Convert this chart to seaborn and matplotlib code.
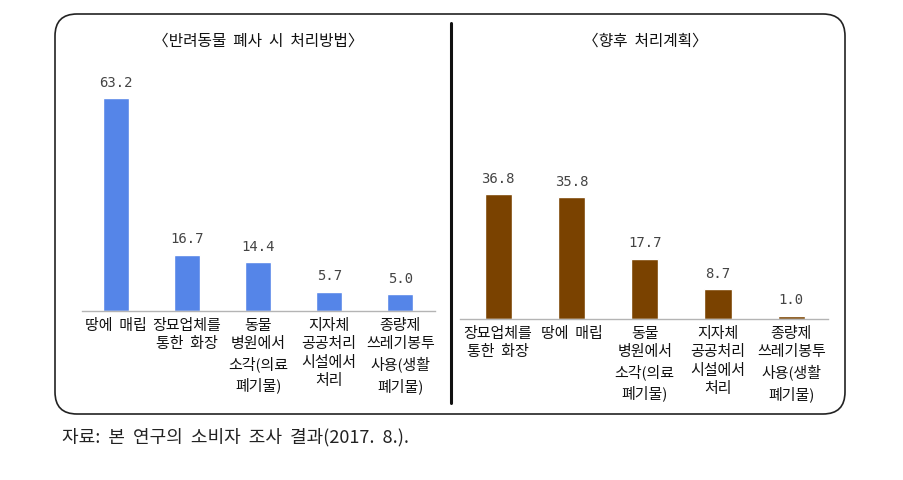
import matplotlib
matplotlib.use("Agg")
import matplotlib.pyplot as plt
from matplotlib.patches import FancyBboxPatch
from matplotlib.lines import Line2D
from matplotlib.transforms import IdentityTransform
import seaborn as sns

# 데이터
left_title = '〈반려동물  폐사  시  처리방법〉'
left_cats = ['땅에  매립', '장묘업체를\n통한  화장', '동물\n병원에서\n소각(의료\n폐기물)',
             '지자체\n공공처리\n시설에서\n처리', '종량제\n쓰레기봉투\n사용(생활\n폐기물)']
left_vals = [63.2, 16.7, 14.4, 5.7, 5.0]

right_title = '〈향후  처리계획〉'
right_cats = ['장묘업체를\n통한  화장', '땅에  매립', '동물\n병원에서\n소각(의료\n폐기물)',
              '지자체\n공공처리\n시설에서\n처리', '종량제\n쓰레기봉투\n사용(생활\n폐기물)']
right_vals = [36.8, 35.8, 17.7, 8.7, 1.0]

caption = '자료:  본  연구의  소비자  조사  결과(2017.  8.).'

sns.set_style("white")
plt.rcParams['font.family'] = ['Noto Sans CJK KR', 'DejaVu Sans']

W, H = 904, 480
fig = plt.figure(figsize=(W / 100, H / 100), dpi=100)


def px_axes(x0, x1, y_top, y_base):
    # 픽셀 좌표(위에서부터) -> figure 좌표
    return fig.add_axes([x0 / W, (H - y_base) / H, (x1 - x0) / W, (y_base - y_top) / H])


def draw_panel(ax, cats, vals, color, xlim):
    sns.barplot(x=cats, y=vals, color=color, saturation=1, width=0.37, ax=ax)
    ax.set_ylim(0, 70)
    ax.set_xlim(*xlim)
    for s in ['top', 'right', 'left']:
        ax.spines[s].set_visible(False)
    ax.spines['bottom'].set_color('#b4b4b4')
    ax.spines['bottom'].set_linewidth(1.0)
    ax.set_yticks([])
    ax.tick_params(axis='x', length=0, pad=5.5, labelsize=10.8, labelcolor='#111')
    for lab in ax.get_xticklabels():
        lab.set_linespacing(1.42)
    ax.bar_label(ax.containers[0], fmt='%.1f', padding=6,
                 fontfamily='DejaVu Sans Mono', fontsize=10, color='#444')
    ax.set_xlabel('')
    ax.set_ylabel('')
    ax.patch.set_alpha(0)


ax1 = px_axes(82, 435, 75, 311)
draw_panel(ax1, left_cats, left_vals, '#5585e8', (-0.48, 4.49))
ax2 = px_axes(460, 828, 81, 319)
draw_panel(ax2, right_cats, right_vals, '#7a4200', (-0.52, 4.5))

fig.text(258 / W, 1 - 41 / H, left_title, ha='center', va='center', fontsize=11.3, color='#111')
fig.text(645 / W, 1 - 41 / H, right_title, ha='center', va='center', fontsize=11.3, color='#111')

# 둥근 테두리와 구분선
box = FancyBboxPatch((55, H - 414), 790, 400, boxstyle="round,pad=0,rounding_size=22",
                     transform=IdentityTransform(), fill=False, edgecolor='#222', linewidth=1.2)
fig.patches.append(box)
fig.lines.append(Line2D([451, 451], [H - 403, H - 23], transform=IdentityTransform(),
                        color='#111', linewidth=2.2))

fig.text(62 / W, 1 - 437 / H, caption, ha='left', va='center', fontsize=13, color='#222')

fig.savefig("out.png", dpi=100)
